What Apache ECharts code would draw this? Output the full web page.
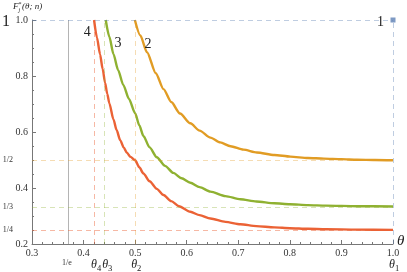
<!DOCTYPE html>
<html><head><meta charset="utf-8">
<script src="https://cdn.jsdelivr.net/npm/echarts/dist/echarts.min.js"></script>
<style>html,body{margin:0;padding:0;background:#fff}#c{width:407px;height:272px}</style>
</head><body><div id="c"></div>
<script>
// ---- data ----
const curve2 = [[0.4995,1.0],[0.510,0.945],[0.523,0.885],[0.540,0.810],[0.555,0.753],[0.570,0.707],[0.587,0.666],[0.607,0.631],[0.625,0.605],[0.646,0.580],[0.665,0.563],[0.685,0.549],[0.710,0.537],[0.736,0.527],[0.770,0.518],[0.801,0.512],[0.835,0.507],[0.866,0.505],[0.900,0.503],[0.930,0.501],[0.965,0.500],[1.0,0.499]];
const curve3 = [[0.443,1.0],[0.450,0.940],[0.458,0.878],[0.467,0.821],[0.477,0.768],[0.488,0.718],[0.500,0.667],[0.508,0.624],[0.516,0.586],[0.528,0.545],[0.542,0.510],[0.558,0.479],[0.574,0.454],[0.590,0.435],[0.607,0.419],[0.625,0.403],[0.646,0.387],[0.675,0.371],[0.704,0.360],[0.735,0.352],[0.770,0.3455],[0.800,0.342],[0.835,0.339],[0.870,0.337],[0.930,0.335],[1.0,0.334]];
const curve4 = [[0.4204,1.0],[0.426,0.937],[0.432,0.877],[0.437,0.825],[0.4417,0.776],[0.446,0.736],[0.450,0.702],[0.458,0.645],[0.464,0.607],[0.471,0.571],[0.478,0.544],[0.484,0.526],[0.491,0.511],[0.500,0.499],[0.508,0.474],[0.516,0.452],[0.528,0.424],[0.542,0.397],[0.555,0.375],[0.570,0.353],[0.585,0.335],[0.607,0.315],[0.625,0.303],[0.646,0.291],[0.675,0.279],[0.704,0.2705],[0.735,0.264],[0.770,0.2593],[0.800,0.2565],[0.835,0.2543],[0.870,0.2528],[0.930,0.2514],[1.0,0.2506]];
const curve1 = [[1.0,1.0]];
const curveNames = ['1','2','3','4'];
const curveLabelPos = [[0.976,0.993],[0.525,0.914],[0.467,0.918],[0.407,0.957]];
const thetaValues = [1.0, 0.5, 0.4437, 0.4223];   // θ1..θ4
const thetaSubs = ['1','2','3','4'];
const limitValues = [1/2, 1/3, 1/4];
const limitLabels = ['1/2','1/3','1/4'];
const invE = 1/Math.E;
const xMin = 0.3, xMax = 1.0, xStep = 0.1;
const yMin = 0.2, yMax = 1.0, yStep = 0.2;

const C1 = '#5E81B5', C2 = '#E19C24', C3 = '#8FB131', C4 = '#EB6235';
const SERIF = '"Liberation Serif","DejaVu Serif",serif';

const chart = echarts.init(document.getElementById('c'), null, {renderer:'canvas'});
const dash = [5,4];
const vLines = [
  {xAxis: invE, lineStyle:{color:'#b4b4b4', type:'solid', width:1}},
  {xAxis: thetaValues[3], lineStyle:{color:'rgba(235,98,53,0.45)', type:dash, width:1}},
  {xAxis: thetaValues[2], lineStyle:{color:'rgba(143,177,49,0.35)', type:dash, width:1}},
  {xAxis: thetaValues[1], lineStyle:{color:'rgba(225,156,36,0.35)', type:dash, width:1}},
  {xAxis: thetaValues[0], lineStyle:{color:'rgba(94,129,181,0.4)', type:dash, width:1}},
  {yAxis: 1.0, lineStyle:{color:'rgba(94,129,181,0.4)', type:dash, width:1}},
  {yAxis: limitValues[0], lineStyle:{color:'rgba(225,156,36,0.35)', type:dash, width:1}},
  {yAxis: limitValues[1], lineStyle:{color:'rgba(143,177,49,0.35)', type:dash, width:1}},
  {yAxis: limitValues[2], lineStyle:{color:'rgba(235,98,53,0.45)', type:dash, width:1}}
];
const lineSeries = (data, color) => ({
  type:'line', data, showSymbol:false, smooth:0.25, smoothMonotone:'x', clip:true,
  lineStyle:{color, width:2.4}, itemStyle:{color}, silent:true, z:3
});
chart.setOption({
  animation:false,
  grid:{left:32, right:14, top:20, bottom:28},
  xAxis:{type:'value', min:xMin, max:xMax, interval:xStep,
    axisLine:{onZero:false, lineStyle:{color:'#777', width:1}},
    axisTick:{inside:true, length:4, lineStyle:{color:'#777'}},
    minorTick:{show:true, splitNumber:5, length:2, lineStyle:{color:'#777'}},
    splitLine:{show:false},
    axisLabel:{formatter:v=>v.toFixed(1), fontFamily:SERIF, fontSize:10, color:'#333', margin:4}},
  yAxis:{type:'value', min:yMin, max:yMax, interval:yStep,
    axisLine:{show:true, onZero:false, lineStyle:{color:'#777', width:1}},
    axisTick:{show:true, inside:true, length:4, lineStyle:{color:'#777'}},
    minorTick:{show:true, splitNumber:4, length:2, lineStyle:{color:'#777'}},
    splitLine:{show:false},
    axisLabel:{formatter:v=>v.toFixed(1), fontFamily:SERIF, fontSize:10, color:'#333', margin:4}},
  series:[
    {type:'line', data:[], silent:true, z:1,
     markLine:{silent:true, symbol:'none', label:{show:false}, data:vLines, animation:false}},
    lineSeries(curve2, C2),
    lineSeries(curve3, C3),
    lineSeries(curve4, C4),
    {type:'scatter', data:curve1, symbol:'rect', symbolSize:5, itemStyle:{color:C1}, clip:false, z:4}
  ]
});

// ---- text annotations positioned through the axes ----
const ctx = document.createElement('canvas').getContext('2d');
function tw(s, font){ ctx.font = font; return ctx.measureText(s).width; }
const px = p => chart.convertToPixel({gridIndex:0}, p);
const g = [];
function txt(x, y, s, size, opts){
  opts = opts || {};
  g.push({type:'text', x, y, silent:true, z:10, style:{text:s, fontFamily:SERIF, fontSize:size,
    fontStyle:opts.italic?'italic':'normal', fill:opts.fill||'#222', align:opts.align||'left', verticalAlign:opts.va||'middle'}});
}
curveNames.forEach((n,i)=>{ const p = px(curveLabelPos[i]); txt(p[0], p[1], n, 14, {align:'center'}); });
const o = px([xMin, yMin]);
const right = px([xMax, yMin])[0];
const y1 = px([xMin, 1.0])[1];
txt(o[0]-22, y1+2, '1', 16, {align:'right'});
limitValues.forEach((v,i)=>{ const p = px([xMin, v]); txt(o[0]-19, p[1], limitLabels[i], 8, {align:'right', fill:'#333'}); });
const ly = o[1]+20;
txt(px([invE, yMin])[0], ly-1, '1/e', 8, {align:'center', fill:'#333'});
thetaValues.forEach((v,i)=>{
  const x = px([v, yMin])[0];
  const w = tw('θ', 'italic 12px ' + SERIF);
  const x0 = x - w/2 - 1;
  txt(x0, ly+1, 'θ', 12, {italic:true});
  txt(x0+w, ly+5, thetaSubs[i], 8.5);
});
txt(right+4, o[1]-3, 'θ', 15, {italic:true});
{
  let x = 13; const y = 7;
  txt(x, y, 'F', 9, {italic:true}); x += tw('F', 'italic 9px ' + SERIF);
  txt(x, y-3, '*', 6); txt(x, y+3, 'j', 6, {italic:true}); x += 3.5;
  txt(x, y, '(θ; n)', 9, {italic:true});
}
chart.setOption({graphic: g});
</script></body></html>
